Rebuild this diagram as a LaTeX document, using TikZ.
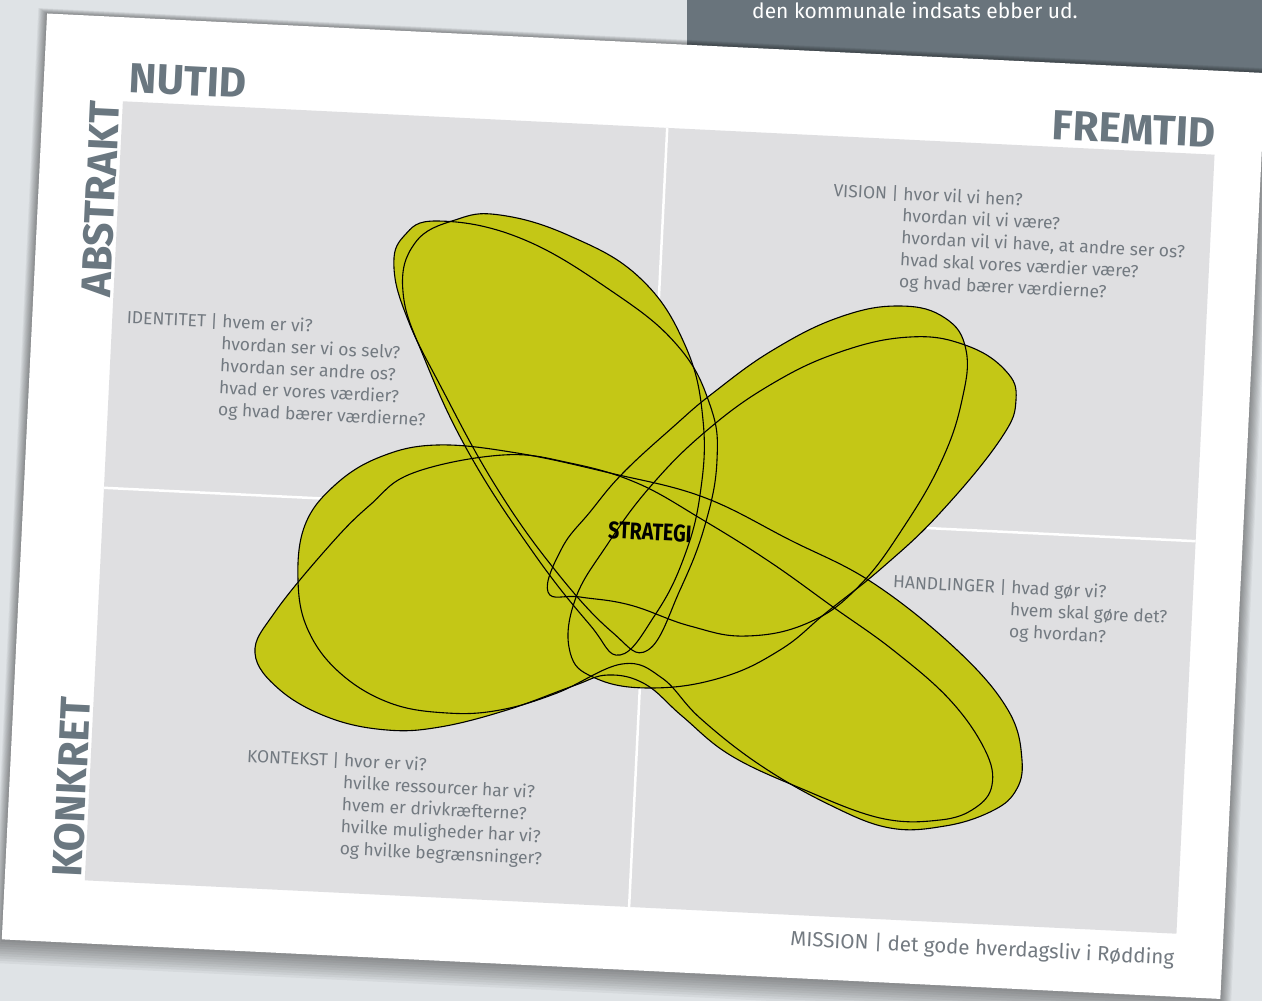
\documentclass[tikz,border=0pt]{standalone}
\usepackage{fontspec}
\setmainfont{Fira Sans}
\newfontfamily\condfont[FakeStretch=0.82]{Fira Sans}
\usetikzlibrary{calc}
\definecolor{PageBlue}{HTML}{DFE3E6}
\definecolor{SlateBox}{HTML}{69747C}
\definecolor{CardGrey}{HTML}{DFDFE1}
\definecolor{HeadSlate}{HTML}{6A7780}
\definecolor{TextGrey}{HTML}{737A81}
\definecolor{PetalGreen}{HTML}{C4C716}

% the blobs of the flower, in page pixels
\newcommand\blobTa{plot[smooth cycle,tension=.7] coordinates {(394,268) (404,236) (438,221) (520,238) (610,290) (677,345) (710,405) (717,460) (705,525) (680,590) (648,650) (612,632) (555,570) (495,485) (440,385) (408,320)}}
\newcommand\blobTb{plot[smooth cycle,tension=.7] coordinates {(403,292) (415,243) (455,220) (500,215) (570,236) (640,278) (685,345) (703,420) (700,495) (683,560) (655,615) (620,655) (590,625) (535,555) (470,455) (425,360)}}
\newcommand\blobRa{plot[smooth cycle,tension=.7] coordinates {(548,592) (562,548) (590,512) (623,473) (673,427) (713,393) (773,350) (840,317) (900,306) (945,318) (966,350) (962,400) (942,460) (905,525) (860,585) (810,622) (747,636) (690,626) (630,605) (580,597)}}
\newcommand\blobRb{plot[smooth cycle,tension=.7] coordinates {(570,652) (575,600) (607,545) (650,487) (705,432) (770,385) (840,352) (910,337) (965,345) (1005,370) (1016,400) (1000,440) (940,513) (883,567) (827,612) (780,650) (720,678) (650,688) (595,678)}}
% left and lower right petals are one bent blob each
\newcommand\blobLBa{plot[smooth cycle,tension=.65] coordinates {(298,580) (305,525) (335,485) (380,457) (437,445) (517,453) (610,473) (703,497) (790,540) (873,583) (957,650) (1008,710) (1022,760) (1015,792) (990,812) (945,826) (890,828) (830,805) (760,765) (700,718) (662,678) (622,664) (557,693) (500,710) (447,713) (390,703) (340,673) (308,630)}}
\newcommand\blobLBb{plot[smooth cycle,tension=.65] coordinates {(255,653) (275,612) (330,545) (370,505) (413,473) (503,455) (570,463) (637,483) (703,520) (770,562) (833,607) (893,650) (950,700) (985,750) (992,785) (975,808) (940,820) (880,818) (800,788) (730,755) (682,716) (645,684) (608,675) (573,686) (507,710) (440,727) (387,730) (330,718) (280,690)}}

\begin{document}
\begin{tikzpicture}[x=1pt,y=-1pt,
    head/.style={inner sep=0pt, text=HeadSlate, font=\fontsize{42}{42}\selectfont\bfseries},
    ask/.style={inner sep=0pt, text=TextGrey, align=left, font=\fontsize{17.5}{22}\selectfont},
    petal/.style={fill=PetalGreen},
    rim/.style={draw=black, line width=1.1pt}]
  \fill[PageBlue] (0,0) rectangle (1262,1001);
  \useasboundingbox (0,0) rectangle (1262,1001);

  % slate box behind the card
  \fill[SlateBox] (687,-2) rectangle (1264,110);
  \node[inner sep=0pt, anchor=base west, text=white, font=\fontsize{21}{24}\selectfont] (ebber) at (752,19) {den kommunale indsats ebber ud.};

  \begin{scope}[rotate around={-2.8:(640,500)}, transform shape]
    % soft shadow and the card
    \foreach \k in {1,...,10}
      \fill[black, opacity=0.045] (24-\k*0.9, 43-\k*0.5) rectangle (1244+\k*1.1, 970+\k*2.4);
    \fill[white] (24,43) rectangle (1244,970);

    % quadrants
    \fill[CardGrey] (104,127) rectangle (1197,907);
    \draw[white, line width=2.5pt] (649,127) -- (649,907);
    \draw[white, line width=2.5pt] (104,514) -- (1197,514);

    % axis words
    \node[head, anchor=base west] (nutid) at (109,118) {NUTID};
    \node[head, anchor=base east] (fremtid) at (1197,120) {FREMTID};
    \node[head, rotate=90, anchor=base west] (abstrakt) at (101,324) {ABSTRAKT};
    \node[head, rotate=90, anchor=base west] (konkret) at (101,905) {KONKRET};

    % questions (anchored on the baseline of the last line)
    \node[ask, anchor=base west] (identitet) at (214,436.5) {\llap{IDENTITET | }hvem er vi?\\
      hvordan ser vi os selv?\\ hvordan ser andre os?\\ hvad er vores værdier?\\ og hvad bærer værdierne?};
    \node[ask, anchor=base west] (vision) at (888,275.5) {\llap{VISION | }hvor vil vi hen?\\
      hvordan vil vi være?\\ hvordan vil vi have, at andre ser os?\\ hvad skal vores værdier være?\\ og hvad bærer værdierne?};
    \node[ask, anchor=base west] (handlinger) at (1015,619.5) {\llap{HANDLINGER | }hvad gør vi?\\
      hvem skal gøre det?\\ og hvordan?};
    \node[ask, anchor=base west] (kontekst) at (357,869) {\llap{KONTEKST | }hvor er vi?\\
      hvilke ressourcer har vi?\\ hvem er drivkræfterne?\\ hvilke muligheder har vi?\\ og hvilke begrænsninger?};
    \node[ask, anchor=base east, font=\fontsize{20.5}{24}\selectfont] (mission) at (1196,938) {MISSION | det gode hverdagsliv i Rødding};
  \end{scope}

  % the flower: fill every blob first, then all the outlines
  \foreach \b in {\blobTa,\blobTb,\blobRa,\blobRb,\blobLBa,\blobLBb}
    \fill[petal] \b;
  \foreach \b in {\blobTa,\blobTb,\blobRa,\blobRb,\blobLBa,\blobLBb}
    \draw[rim] \b;

  \node[inner sep=0pt, rotate=-2.8, font=\fontsize{24}{24}\selectfont\condfont\bfseries] (strategi) at (650,532) {STRATEGI};
\end{tikzpicture}
\end{document}
